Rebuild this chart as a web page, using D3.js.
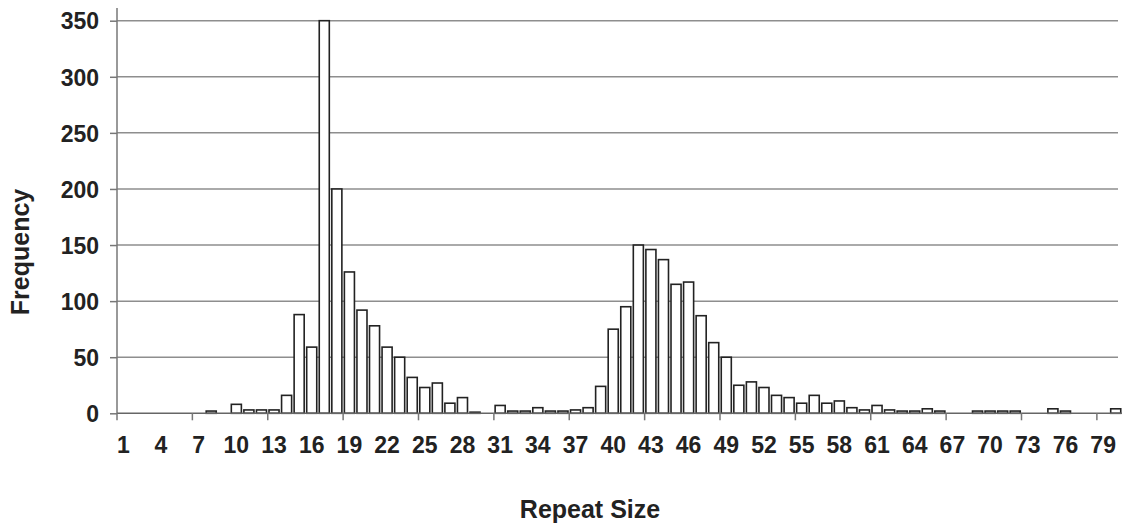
<!DOCTYPE html>
<html><head><meta charset="utf-8">
<script src="https://cdn.jsdelivr.net/npm/d3@7"></script>
<style>body{margin:0;background:#fff}svg{display:block}</style>
</head><body>
<svg id="c" width="1124" height="527"></svg>
<script>
const categories = d3.range(1, 81);
const frequency = [
  0,0,0,0,0,0,0,2,0,8,
  3,3,3,16,88,59,350,200,126,92,
  78,59,50,32,23,27,9,14,1,0,
  7,2,2,5,2,2,3,5,24,75,
  95,150,146,137,115,117,87,63,50,25,
  28,23,16,14,9,16,9,11,5,3,
  7,3,2,2,4,2,0,0,2,2,
  2,2,0,0,4,2,0,0,0,4
];
const yTicks = [0,50,100,150,200,250,300,350];
const xLabelCats = d3.range(1, 81, 3);
const yTitle = "Frequency";
const xTitle = "Repeat Size";

const svg = d3.select("#c");
const mLeft = 117, mRight = 1122, mTop = 20.7, mBottom = 413.3;
const x = d3.scaleBand().domain(categories).range([mLeft, mRight]).paddingInner(0.2).paddingOuter(0.1);
const y = d3.scaleLinear().domain([0, 350]).range([mBottom, mTop]);
const step = x.step();
const font = "'Liberation Sans', Arial, sans-serif";

// gridlines
svg.append("g").selectAll("line").data(yTicks.filter(d => d > 0)).join("line")
  .attr("x1", mLeft).attr("x2", 1118).attr("y1", d => y(d)).attr("y2", d => y(d))
  .attr("stroke", "#8e8e8e").attr("stroke-width", 1.5);

// y axis
const yAxis = svg.append("g").attr("transform", `translate(${mLeft},0)`)
  .call(d3.axisLeft(y).tickValues(yTicks).tickSize(7).tickPadding(11));
yAxis.select(".domain").remove();
yAxis.selectAll(".tick line").attr("stroke", "#777").attr("stroke-width", 1.5);
yAxis.selectAll("text").attr("font-family", font).attr("font-size", 23).attr("font-weight", "bold")
  .attr("fill", "#222").attr("dy", "0.36em");
svg.append("line").attr("x1", mLeft).attr("x2", mLeft).attr("y1", 8).attr("y2", mBottom)
  .attr("stroke", "#777").attr("stroke-width", 1.5);

// bars
svg.append("g").selectAll("rect").data(categories).join("rect")
  .attr("x", d => x(d)).attr("width", x.bandwidth())
  .attr("y", (d, i) => y(frequency[i])).attr("height", (d, i) => mBottom - y(frequency[i]))
  .attr("fill", "#fff").attr("stroke", "#222").attr("stroke-width", 1.6)
  .style("display", (d, i) => frequency[i] > 0 ? null : "none");

// x axis line
svg.append("line").attr("x1", mLeft).attr("x2", mRight).attr("y1", mBottom).attr("y2", mBottom)
  .attr("stroke", "#666").attr("stroke-width", 1.5);
// x tick marks at every 6th boundary
const boundaryIdx = d3.range(0, 80, 6);
svg.append("g").selectAll("line").data(boundaryIdx).join("line")
  .attr("x1", d => mLeft + d * step).attr("x2", d => mLeft + d * step)
  .attr("y1", mBottom).attr("y2", mBottom + 7)
  .attr("stroke", "#777").attr("stroke-width", 1.5);
// x labels
svg.append("g").selectAll("text").data(xLabelCats).join("text")
  .attr("x", d => x(d) + x.bandwidth() / 2).attr("y", 453)
  .attr("text-anchor", "middle").attr("font-family", font).attr("font-size", 23)
  .attr("font-weight", "bold").attr("fill", "#222")
  .text(d => d);

// titles
svg.append("text").attr("transform", "translate(29,252) rotate(-90)")
  .attr("text-anchor", "middle").attr("font-family", font).attr("font-size", 25)
  .attr("font-weight", "bold").attr("fill", "#222").text(yTitle);
svg.append("text").attr("x", 590).attr("y", 518)
  .attr("text-anchor", "middle").attr("font-family", font).attr("font-size", 25)
  .attr("font-weight", "bold").attr("fill", "#222").text(xTitle);
</script>
</body></html>
